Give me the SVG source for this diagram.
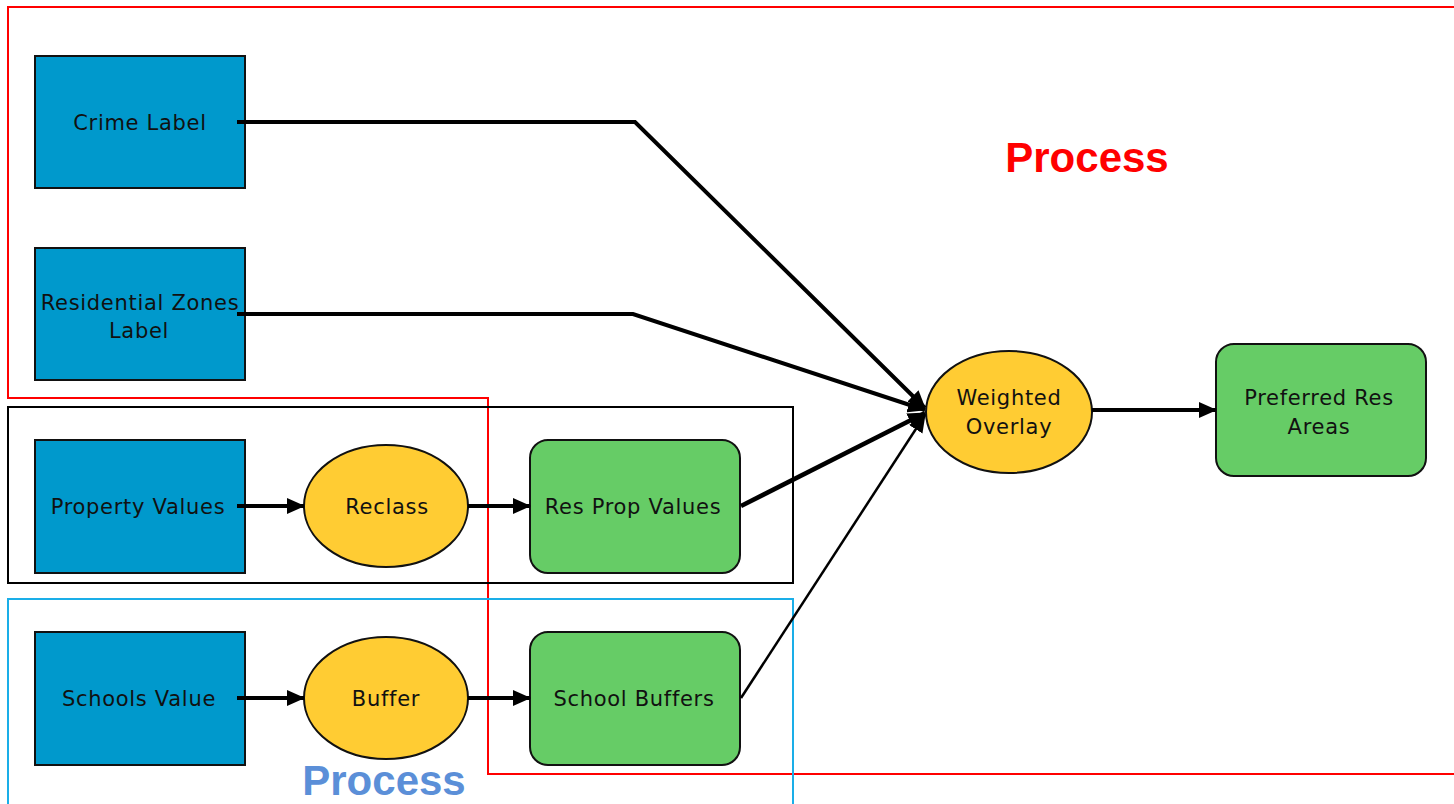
<svg xmlns="http://www.w3.org/2000/svg" width="1454" height="804" viewBox="0 0 1454 804">
<defs>
<style>
.data{fill:#0099cc;stroke:#111;stroke-width:2}
.tool{fill:#ffcc33;stroke:#111;stroke-width:2}
.out{fill:#66cc66;stroke:#111;stroke-width:2}
.lbl{font-family:"DejaVu Sans","Liberation Sans",sans-serif;font-size:21px;fill:#111;text-anchor:middle;letter-spacing:0.7px}
.conn{fill:none;stroke:#000;stroke-linejoin:miter}
.proc{font-family:"Liberation Sans",Arial,sans-serif;font-weight:bold;text-anchor:middle;font-size:42px}
</style>
<marker id="ah" markerUnits="userSpaceOnUse" markerWidth="18" markerHeight="16" refX="17" refY="8" orient="auto">
<path d="M0,0 L18,8 L0,16 Z" fill="#000"/>
</marker>
</defs>
<rect width="1454" height="804" fill="#fff"/>
<g id="frames">
<polygon points="8,7 1460,7 1460,774 488,774 488,398 8,398" fill="none" stroke="#ff0000" stroke-width="2"/>
<rect x="8" y="407" width="785" height="176" fill="none" stroke="#000" stroke-width="2"/>
<rect x="8" y="599" width="785" height="215" fill="none" stroke="#1aaee8" stroke-width="2"/>
</g>
<g id="n-crime"><rect class="data" x="35" y="56" width="210" height="132"/><text class="lbl" x="140" y="130">Crime Label</text></g>
<g id="n-resz"><rect class="data" x="35" y="248" width="210" height="132"/><text class="lbl" x="140" y="310">Residential Zones</text><text class="lbl" x="139" y="338">Label</text></g>
<g id="n-prop"><rect class="data" x="35" y="440" width="210" height="133"/><text class="lbl" x="138" y="514">Property Values</text></g>
<g id="n-schools"><rect class="data" x="35" y="632" width="210" height="133"/><text class="lbl" x="139" y="706">Schools Value</text></g>
<g id="n-reclass"><ellipse class="tool" cx="386" cy="506" rx="82" ry="61"/><text class="lbl" x="387" y="514">Reclass</text></g>
<g id="n-buffer"><ellipse class="tool" cx="386" cy="698" rx="82" ry="61"/><text class="lbl" x="386" y="706">Buffer</text></g>
<g id="n-resprop"><rect class="out" x="530" y="440" width="210" height="133" rx="18"/><text class="lbl" x="633" y="514">Res Prop Values</text></g>
<g id="n-schbuf"><rect class="out" x="530" y="632" width="210" height="133" rx="18"/><text class="lbl" x="634" y="706">School Buffers</text></g>
<g id="n-weighted"><ellipse class="tool" cx="1009" cy="412" rx="83" ry="61"/><text class="lbl" x="1009" y="405">Weighted</text><text class="lbl" x="1009" y="434">Overlay</text></g>
<g id="n-preferred"><rect class="out" x="1216" y="344" width="210" height="132" rx="18"/><text class="lbl" x="1319" y="405">Preferred Res</text><text class="lbl" x="1319" y="434">Areas</text></g>
<g id="connectors">
<polyline class="conn" stroke-width="4" points="237,122 635,122 925,408" marker-end="url(#ah)"/>
<polyline class="conn" stroke-width="4" points="237,314 633,314 925,410" marker-end="url(#ah)"/>
<polyline class="conn" stroke-width="4.5" points="741,506 925,413" marker-end="url(#ah)"/>
<polyline class="conn" stroke-width="2.5" points="741,698 925,415" marker-end="url(#ah)"/>
<line class="conn" stroke-width="4" x1="1092" y1="410" x2="1216" y2="410" marker-end="url(#ah)"/>
<line class="conn" stroke-width="4" x1="237" y1="506" x2="304" y2="506" marker-end="url(#ah)"/>
<line class="conn" stroke-width="4" x1="468" y1="506" x2="530" y2="506" marker-end="url(#ah)"/>
<line class="conn" stroke-width="4" x1="237" y1="698" x2="304" y2="698" marker-end="url(#ah)"/>
<line class="conn" stroke-width="4" x1="468" y1="698" x2="530" y2="698" marker-end="url(#ah)"/>
</g>
<g id="labels">
<text class="proc" x="1087" y="172" fill="#ff0000">Process</text>
<text class="proc" x="384" y="795" fill="#5b8fd8">Process</text>
</g>
</svg>
